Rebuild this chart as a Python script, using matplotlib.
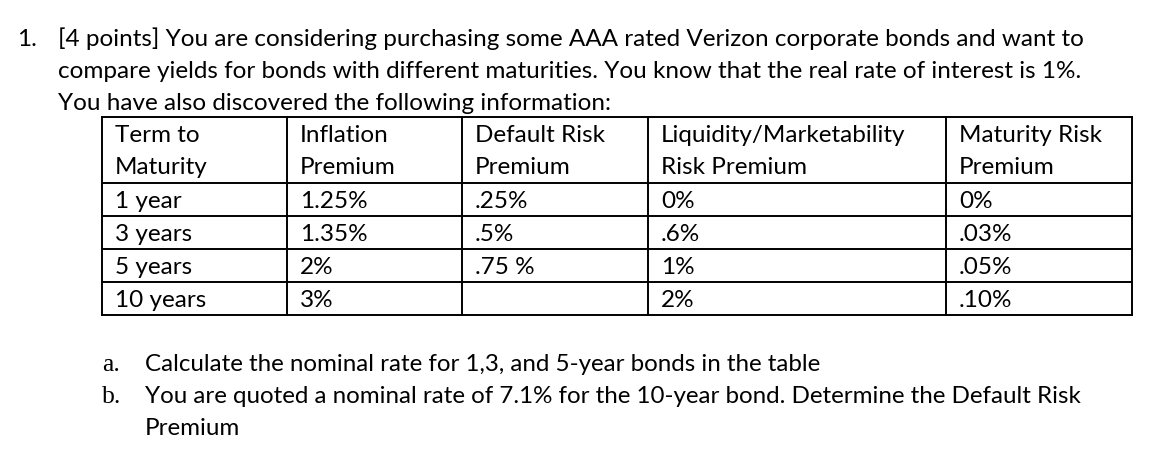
import matplotlib
matplotlib.use("Agg")
import matplotlib.pyplot as plt

# question text
q_number = "1."
q_lines = [
    "[4 points] You are considering purchasing some AAA rated Verizon corporate bonds and want to",
    "compare yields for bonds with different maturities. You know that the real rate of interest is 1%.",
    "You have also discovered the following information:",
]

# table contents
header_line1 = ["Term to", "Inflation", "Default Risk", "Liquidity/Marketability", "Maturity Risk"]
header_line2 = ["Maturity", "Premium", "Premium", "Risk Premium", "Premium"]
terms = ["1 year", "3 years", "5 years", "10 years"]
inflation = ["1.25%", "1.35%", "2%", "3%"]
default_risk = [".25%", ".5%", ".75 %", ""]
liquidity = ["0%", ".6%", "1%", "2%"]
maturity_risk = ["0%", ".03%", ".05%", ".10%"]

sub_labels = ["a.", "b.", ""]
sub_lines = [
    "Calculate the nominal rate for 1,3, and 5-year bonds in the table",
    "You are quoted a nominal rate of 7.1% for the 10-year bond. Determine the Default Risk",
    "Premium",
]

W, H = 1156, 474
fig = plt.figure(figsize=(W / 100, H / 100), dpi=100)
ax = fig.add_axes([0, 0, 1, 1])
ax.set_xlim(0, W)
ax.set_ylim(H, 0)
ax.axis("off")

FONT = "Lato"
renderer = fig.canvas.get_renderer()


def fit_size(s, target, base=18.0):
    t = ax.text(0, 0, s, fontsize=base, family=FONT)
    w = t.get_window_extent(renderer).width
    t.remove()
    return base * target / w


fs = fit_size(q_lines[0], 1024)
fs_sub = fit_size(sub_lines[1], 937)

# question header
ax.text(17, 46, q_number, fontsize=fs, family=FONT, va="baseline")
for i, line in enumerate(q_lines):
    ax.text(58, 46 + 32 * i, line, fontsize=fs, family=FONT, va="baseline")

# table grid
col_edges = [102, 287, 462, 648, 946, 1132]
row_edges = [117, 183, 216, 249, 282, 315]
lw = 1.4
for x in col_edges:
    ax.plot([x, x], [row_edges[0], row_edges[-1]], color="black", lw=lw, solid_capstyle="projecting")
for y in row_edges:
    ax.plot([col_edges[0], col_edges[-1]], [y, y], color="black", lw=lw, solid_capstyle="projecting")

pad = 13
columns = [terms, inflation, default_risk, liquidity, maturity_risk]
for c in range(5):
    x = col_edges[c] + pad
    ax.text(x, 142, header_line1[c], fontsize=fs, family=FONT, va="baseline")
    ax.text(x, 174, header_line2[c], fontsize=fs, family=FONT, va="baseline")
    for r, val in enumerate(columns[c]):
        ax.text(x, row_edges[r + 1] + 25, val, fontsize=fs, family=FONT, va="baseline")

# sub questions (list letters are in a serif face in the original)
for i, (lab, line) in enumerate(zip(sub_labels, sub_lines)):
    y = 371 + 32 * i
    if lab:
        ax.text(102, y, lab, fontsize=fs_sub + 1, family="Liberation Serif", va="baseline")
    ax.text(145, y, line, fontsize=fs_sub, family=FONT, va="baseline")

fig.savefig("out.png", dpi=100, facecolor="white")
